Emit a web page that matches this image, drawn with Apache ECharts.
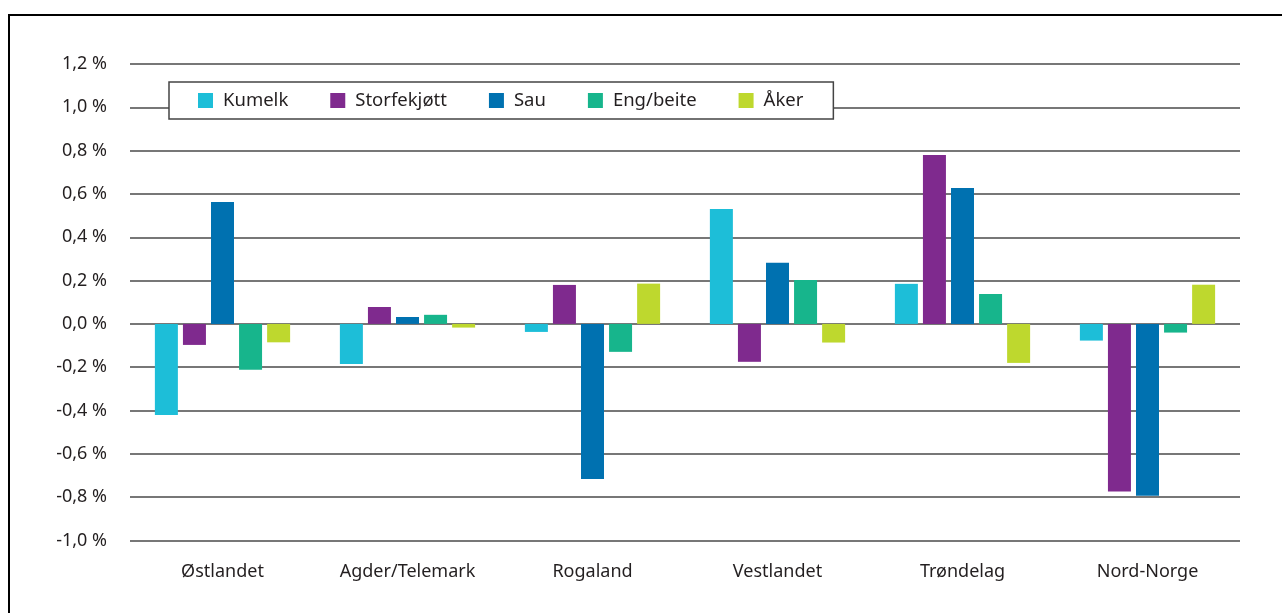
<!DOCTYPE html>
<html>
<head>
<meta charset="utf-8">
<script src="https://cdn.jsdelivr.net/npm/echarts@6/dist/echarts.min.js"></script>
<style>
  html, body { margin: 0; padding: 0; background: #fff; }
  #chart { width: 1282px; height: 613px; }
</style>
</head>
<body>
<div id="chart"></div>
<script>
// regioner
const regions = ['Østlandet', 'Agder/Telemark', 'Rogaland', 'Vestlandet', 'Trøndelag', 'Nord-Norge'];

// endring i prosent, lest av figuren
const kumelk = [-0.42, -0.185, -0.037, 0.531, 0.185, -0.077];
const storfekjott = [-0.097, 0.078, 0.18, -0.175, 0.78, -0.774];
const sau = [0.563, 0.032, -0.716, 0.282, 0.628, -0.793];
const engBeite = [-0.212, 0.042, -0.129, 0.203, 0.138, -0.04];
const aker = [-0.085, -0.017, 0.186, -0.086, -0.18, 0.181];

const seriesNames = ['Kumelk', 'Storfekjøtt', 'Sau', 'Eng/beite', 'Åker'];
const seriesData = [kumelk, storfekjott, sau, engBeite, aker];
const colors = ['#1dbed8', '#7f2a8e', '#0071b0', '#17b58c', '#bed82e'];

const FONT = 'Noto Sans';
const TEXT = '#231f20';

const chart = echarts.init(document.getElementById('chart'));

const option = {
  backgroundColor: '#fff',
  animation: false,
  textStyle: { fontFamily: FONT, color: TEXT },
  graphic: [{
    type: 'rect',
    shape: { x: 9, y: 15, width: 1300, height: 700 },
    style: { fill: 'none', stroke: '#000', lineWidth: 2 },
    z: 100
  }],
  legend: {
    left: 169,
    top: 82,
    padding: [9, 30, 9, 29],
    itemGap: 42,
    itemWidth: 15,
    itemHeight: 15,
    icon: 'rect',
    backgroundColor: '#fff',
    borderColor: '#444',
    borderWidth: 1.5,
    textStyle: { fontFamily: FONT, fontSize: 18.5, color: TEXT, padding: [0, 0, 0, 5] },
    data: seriesNames
  },
  grid: {
    left: 130,
    right: 42,
    top: 64,
    bottom: 72.5
  },
  xAxis: {
    type: 'category',
    data: regions,
    axisLine: { show: false, onZero: false },
    axisTick: { show: false },
    axisLabel: { fontFamily: FONT, fontSize: 18, color: TEXT, margin: 22, interval: 0 }
  },
  yAxis: {
    type: 'value',
    min: -1.0,
    max: 1.2,
    interval: 0.2,
    axisLine: { show: false },
    axisTick: { show: false },
    axisLabel: {
      fontFamily: FONT,
      fontSize: 18,
      color: TEXT,
      margin: 23,
      formatter: (v) => {
        let r = Math.round(v * 10) / 10;
        if (r === 0) r = 0;
        return r.toFixed(1).replace('.', ',') + ' %';
      }
    },
    splitLine: { lineStyle: { color: '#4a4a4a', width: 1.5 } }
  },
  series: seriesNames.map((name, i) => ({
    name: name,
    type: 'bar',
    data: seriesData[i],
    barWidth: 23,
    barGap: '22%',
    itemStyle: { color: colors[i] }
  }))
};

chart.setOption(option);
</script>
</body>
</html>
